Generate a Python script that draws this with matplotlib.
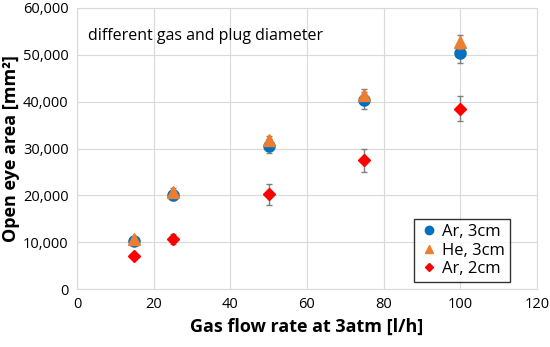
import numpy as np
import matplotlib.pyplot as plt

plt.rcParams['font.family'] = ['Open Sans', 'DejaVu Sans']

flow = [15, 25, 50, 75, 100]
ar3 = [10300, 20100, 30500, 40300, 50300]
ar3_err = [600, 1000, 1500, 1800, 2000]
he3 = [10600, 20800, 31800, 41500, 52800]
he3_err = [500, 700, 900, 1200, 1500]
ar2 = [7000, 10700, 20200, 27500, 38500]
ar2_err = [400, 1100, 2200, 2500, 2700]

fig = plt.figure(figsize=(5.5, 3.47), dpi=100)
ax = fig.add_axes([0.14, 0.167, 0.836, 0.81])

ax.errorbar(flow, ar3, yerr=ar3_err, fmt='o', color='#0070C0', ms=8,
            ecolor='#7f7f7f', elinewidth=1, capsize=2, label='Ar, 3cm', zorder=3)
ax.errorbar(flow, he3, yerr=he3_err, fmt='^', color='#ED7D31', ms=8,
            ecolor='#7f7f7f', elinewidth=1, capsize=2, label='He, 3cm', zorder=4)
ax.errorbar(flow, ar2, yerr=ar2_err, fmt='D', color='#FF0000', ms=6,
            ecolor='#7f7f7f', elinewidth=1, capsize=2, label='Ar, 2cm', zorder=3)

ax.set_xlim(0, 120)
ax.set_ylim(0, 60000)
ax.set_xticks(np.arange(0, 121, 20))
ax.set_yticks(np.arange(0, 60001, 10000))
ax.yaxis.set_major_formatter(plt.FuncFormatter(lambda v, p: f'{int(v):,}'))
ax.grid(True, color='#d9d9d9', lw=0.8)
ax.set_axisbelow(True)
for s in ax.spines.values():
    s.set_color('#d9d9d9')
ax.tick_params(length=0, labelsize=10.5, pad=6)

ax.set_xlabel('Gas flow rate at 3atm [l/h]', fontsize=13, fontweight='bold')
ax.set_ylabel('Open eye area [mm²]', fontsize=13, fontweight='bold', labelpad=2)
ax.text(0.025, 0.9, 'different gas and plug diameter', transform=ax.transAxes,
        fontsize=11.5, va='center')

handles, labels = ax.get_legend_handles_labels()
handles = [h[0] for h in handles]
leg = ax.legend(handles, labels, loc='lower right', bbox_to_anchor=(0.96, -0.005),
                fontsize=12, frameon=True, fancybox=False, handletextpad=0.2,
                handlelength=1.2, borderpad=0.3, labelspacing=0.15, markerscale=0.75)
leg.get_frame().set_edgecolor('black')
leg.get_frame().set_linewidth(1)

fig.savefig('out.png', dpi=100)
